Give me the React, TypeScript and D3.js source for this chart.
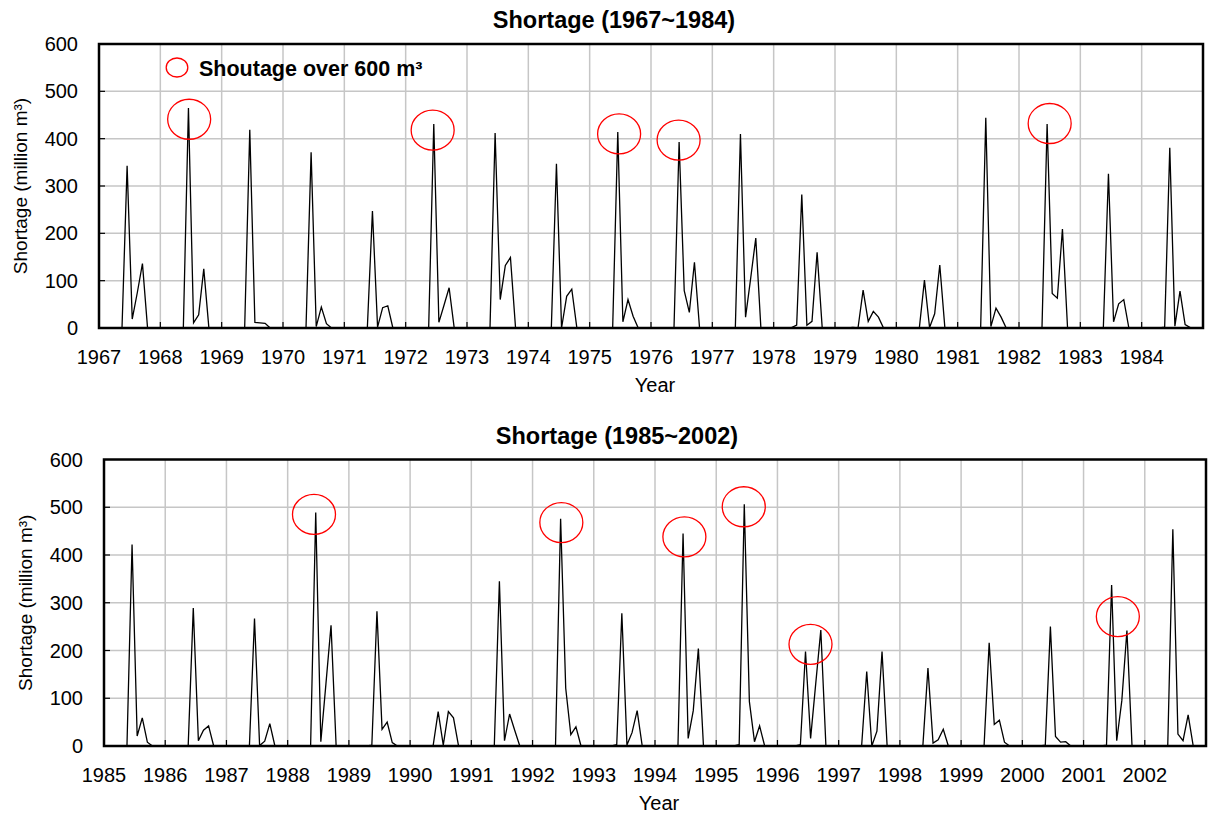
import React from "react";
import * as d3 from "d3";

// Monthly shortage (million m³), one row per year, Jan..Dec
const shortage1967to1984: number[][] = [
  [0, 0, 0, 0, 0, 343, 19, 75, 136, 0, 0, 0],
  [0, 0, 0, 0, 0, 465, 11, 28, 125, 0, 0, 0],
  [0, 0, 0, 0, 0, 419, 12, 11, 10, 0, 0, 0],
  [0, 0, 0, 0, 0, 371, 3, 44, 9, 0, 0, 0],
  [0, 0, 0, 0, 0, 247, 2, 43, 47, 0, 0, 0],
  [0, 0, 0, 0, 0, 431, 12, 48, 85, 0, 0, 0],
  [0, 0, 0, 0, 0, 412, 60, 132, 149, 0, 0, 0],
  [0, 0, 0, 0, 0, 347, 0, 67, 82, 0, 0, 0],
  [0, 0, 0, 0, 0, 414, 13, 60, 25, 0, 0, 0],
  [0, 0, 0, 0, 0, 393, 79, 33, 139, 0, 0, 0],
  [0, 0, 0, 0, 0, 410, 23, 105, 190, 0, 0, 0],
  [0, 0, 0, 1, 6, 282, 6, 14, 160, 0, 0, 0],
  [0, 0, 0, 1, 0, 80, 14, 35, 23, 0, 0, 0],
  [0, 0, 0, 0, 0, 101, 1, 30, 133, 0, 0, 0],
  [0, 0, 0, 0, 1, 444, 3, 42, 23, 0, 0, 0],
  [0, 0, 0, 1, 1, 431, 73, 63, 209, 0, 0, 0],
  [0, 0, 0, 0, 0, 326, 13, 51, 60, 0, 0, 0],
  [0, 0, 0, 0, 2, 381, 4, 78, 7, 1, 0, 0],
];

const shortage1985to2002: number[][] = [
  [0, 0, 0, 0, 0, 422, 21, 59, 8, 0, 0, 0],
  [0, 0, 0, 0, 0, 289, 11, 33, 42, 0, 0, 0],
  [0, 0, 0, 0, 0, 267, 1, 10, 47, 0, 0, 0],
  [0, 0, 0, 0, 1, 489, 9, 130, 253, 0, 0, 0],
  [0, 0, 0, 0, 2, 282, 35, 50, 7, 0, 0, 0],
  [0, 0, 0, 0, 0, 72, 2, 72, 59, 0, 0, 0],
  [0, 0, 0, 0, 0, 345, 11, 67, 33, 0, 0, 0],
  [0, 0, 0, 0, 1, 476, 121, 24, 40, 0, 0, 0],
  [0, 0, 0, 0, 3, 278, 2, 28, 74, 0, 0, 0],
  [0, 0, 0, 0, 0, 445, 16, 74, 204, 0, 0, 0],
  [0, 0, 0, 0, 3, 506, 93, 9, 42, 0, 0, 0],
  [0, 0, 0, 0, 3, 198, 16, 130, 243, 0, 0, 0],
  [0, 0, 0, 0, 0, 156, 0, 31, 198, 0, 0, 0],
  [0, 0, 0, 0, 0, 163, 6, 13, 35, 0, 0, 0],
  [0, 0, 0, 0, 0, 216, 45, 54, 8, 0, 0, 0],
  [0, 0, 0, 0, 2, 250, 20, 8, 9, 0, 0, 0],
  [0, 0, 0, 0, 2, 337, 11, 95, 242, 0, 0, 0],
  [0, 0, 0, 0, 0, 454, 25, 11, 65, 0, 0, 0],
];

// Highlighted events: [decimal year, shortage value] of each marker centre
const highlights1967to1984: [number, number][] = [
  [1968.47, 441],
  [1972.44, 418],
  [1975.48, 410],
  [1976.45, 397],
  [1982.5, 432],
];

const highlights1985to2002: [number, number][] = [
  [1988.43, 485],
  [1992.47, 468],
  [1994.48, 438],
  [1995.45, 501],
  [1996.54, 213],
  [2001.56, 271],
];

const yTicks = [0, 100, 200, 300, 400, 500, 600];
const years1 = d3.range(1967, 1985);
const years2 = d3.range(1985, 2003);

const FONT = "'Liberation Sans', Arial, Helvetica, sans-serif";

type Box = { left: number; right: number; top: number; bottom: number };

type PanelProps = {
  box: Box;
  title: string;
  titleX: number;
  titleY: number;
  startYear: number;
  years: number[];
  rows: number[][];
  highlights: [number, number][];
  legend?: boolean;
};

function Panel({ box, title, titleX, titleY, startYear, years, rows, highlights, legend }: PanelProps) {
  const x = d3.scaleLinear().domain([startYear, startYear + years.length]).range([box.left, box.right]);
  const y = d3.scaleLinear().domain([0, 600]).range([box.bottom, box.top]);

  const pts = rows.flatMap((row, yi) =>
    row.map((v, m) => ({ t: startYear + yi + (m + 0.5) / 12, v }))
  );
  const line = d3
    .line<{ t: number; v: number }>()
    .x((d) => x(d.t))
    .y((d) => y(d.v));

  const tickLen = 6;
  return (
    <g>
      <text x={titleX} y={titleY} textAnchor="middle" fontFamily={FONT} fontWeight="bold" fontSize={23.5}>
        {title}
      </text>
      {/* grid */}
      {years.slice(1).map((yr) => (
        <line key={"gx" + yr} x1={x(yr)} x2={x(yr)} y1={box.top} y2={box.bottom} stroke="#c6c6c6" strokeWidth={1.5} />
      ))}
      {yTicks.slice(1, -1).map((t) => (
        <line key={"gy" + t} x1={box.left} x2={box.right} y1={y(t)} y2={y(t)} stroke="#c6c6c6" strokeWidth={1.5} />
      ))}
      {/* inside ticks */}
      {years.slice(1).map((yr) => (
        <line key={"tx" + yr} x1={x(yr)} x2={x(yr)} y1={box.bottom} y2={box.bottom - tickLen} stroke="#000" strokeWidth={1.2} />
      ))}
      {yTicks.slice(1, -1).map((t) => (
        <line key={"ty" + t} x1={box.left} x2={box.left + tickLen} y1={y(t)} y2={y(t)} stroke="#000" strokeWidth={1.2} />
      ))}
      <path d={line(pts) || ""} fill="none" stroke="#000" strokeWidth={1.3} strokeLinejoin="miter" />
      {highlights.map(([t, v], i) => (
        <ellipse key={"h" + i} cx={x(t)} cy={y(v)} rx={21.5} ry={20} fill="none" stroke="#ff0000" strokeWidth={1.3} />
      ))}
      <rect
        x={box.left}
        y={box.top}
        width={box.right - box.left}
        height={box.bottom - box.top}
        fill="none"
        stroke="#000"
        strokeWidth={2.5}
      />
      {/* tick labels */}
      {yTicks.map((t) => (
        <text key={"ly" + t} x={box.left - 21} y={y(t)} dy="0.35em" textAnchor="end" fontFamily={FONT} fontSize={20}>
          {t}
        </text>
      ))}
      {years.map((yr) => (
        <text key={"lx" + yr} x={x(yr)} y={box.bottom + 36} textAnchor="middle" fontFamily={FONT} fontSize={20}>
          {yr}
        </text>
      ))}
      <text
        x={(box.left + box.right) / 2 + 4}
        y={box.bottom + 64}
        textAnchor="middle"
        fontFamily={FONT}
        fontSize={20}
      >
        Year
      </text>
      <text
        transform={`translate(${box.left - 72},${(box.top + box.bottom) / 2}) rotate(-90)`}
        textAnchor="middle"
        fontFamily={FONT}
        fontSize={19}
      >
        Shortage (million m³)
      </text>
      {legend && (
        <g>
          <ellipse cx={box.left + 78} cy={box.top + 23.5} rx={10.8} ry={9.5} fill="none" stroke="#ff0000" strokeWidth={1.3} />
          <text x={box.left + 100} y={box.top + 32} fontFamily={FONT} fontWeight="bold" fontSize={21.5}>
            Shoutage over 600 m³
          </text>
        </g>
      )}
    </g>
  );
}

export default function App() {
  return (
    <svg
      width={1208}
      height={813}
      style={{ position: "absolute", left: 0, top: 0, background: "#fff" }}
    >
      <Panel
        box={{ left: 99, right: 1203, top: 44, bottom: 328 }}
        title="Shortage (1967~1984)"
        titleX={614}
        titleY={28}
        startYear={1967}
        years={years1}
        rows={shortage1967to1984}
        highlights={highlights1967to1984}
        legend
      />
      <Panel
        box={{ left: 104, right: 1206, top: 459.5, bottom: 746 }}
        title="Shortage (1985~2002)"
        titleX={617}
        titleY={444}
        startYear={1985}
        years={years2}
        rows={shortage1985to2002}
        highlights={highlights1985to2002}
      />
    </svg>
  );
}
